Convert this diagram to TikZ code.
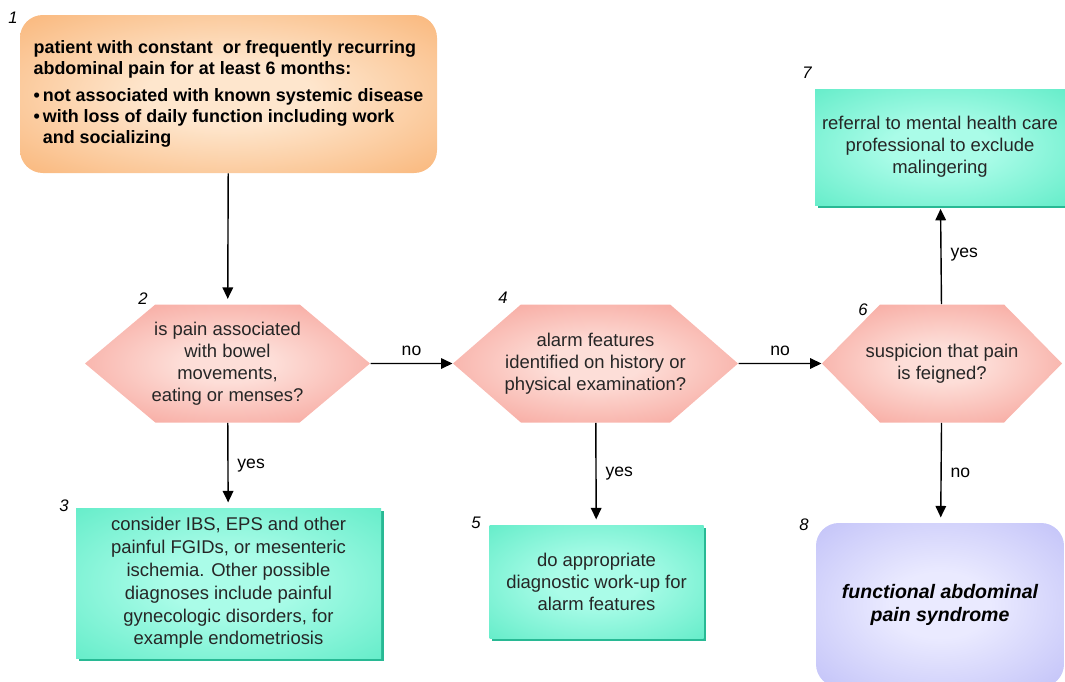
\documentclass[tikz,border=0pt]{standalone}
\usepackage{fontspec}
\setmainfont{Liberation Sans}
\usetikzlibrary{shapes.symbols,arrows.meta,shadows}

\definecolor{orangeout}{RGB}{248,172,104}
\definecolor{orangein}{RGB}{254,230,205}
\definecolor{salmonout}{RGB}{245,148,138}
\definecolor{salmonin}{RGB}{253,222,216}
\definecolor{greenout}{RGB}{80,232,192}
\definecolor{greenin}{RGB}{170,252,232}
\definecolor{greenshade}{RGB}{40,185,148}
\definecolor{lilacout}{RGB}{182,182,246}
\definecolor{lilacin}{RGB}{234,234,255}

% soft radial fills
\pgfdeclareradialshading{orangeglow}{\pgfpoint{0bp}{0bp}}{color(0bp)=(orangein); color(10bp)=(orangein); color(42bp)=(orangeout); color(50bp)=(orangeout)}
\pgfdeclareradialshading{salmonglow}{\pgfpoint{0bp}{0bp}}{color(0bp)=(salmonin); color(8bp)=(salmonin); color(40bp)=(salmonout); color(50bp)=(salmonout)}
\pgfdeclareradialshading{greenglow}{\pgfpoint{0bp}{0bp}}{color(0bp)=(greenin); color(10bp)=(greenin); color(44bp)=(greenout); color(50bp)=(greenout)}
\pgfdeclareradialshading{lilacglow}{\pgfpoint{0bp}{0bp}}{color(0bp)=(lilacin); color(10bp)=(lilacin); color(44bp)=(lilacout); color(50bp)=(lilacout)}

\tikzset{
  txt/.style={font=\fontsize{10.5pt}{12.5pt}\selectfont, align=center, text=black!85},
  startbox/.style={rounded corners=13pt, shading=orangeglow, inner sep=0pt,
    font=\fontsize{10.2pt}{12pt}\selectfont\bfseries, align=left},
  question/.style={shape=signal, signal to=west and east, shading=salmonglow,
    inner xsep=-20pt, inner ysep=0pt, minimum height=2.36cm, txt},
  action/.style={shading=greenglow, inner sep=0pt,
    drop shadow={shadow xshift=1.6pt, shadow yshift=-1.6pt, fill=greenshade, opacity=1}, txt},
  result/.style={rounded corners=13pt, shading=lilacglow, inner sep=0pt,
    font=\fontsize{11.1pt}{13pt}\selectfont\bfseries\itshape, align=center},
  stepno/.style={font=\fontsize{9.5pt}{10pt}\selectfont\itshape, inner sep=0pt},
  answer/.style={font=\fontsize{10pt}{10pt}\selectfont, inner sep=0pt},
  flow/.style={-{Triangle[length=6.5pt,width=6pt]}, line width=0.8pt}
}

\begin{document}
\begin{tikzpicture}
  \useasboundingbox (0,0) rectangle (21.3,-13.62);
  % box 1
  \node [startbox, minimum width=8.34cm, minimum height=3.16cm] (start) at (4.57,-1.88)
    {patient with constant\ \ or frequently recurring\\
     abdominal pain for at least 6 months:\\[3pt]
     \textbullet\,not associated with known systemic disease\\
     \textbullet\,with loss of daily function including work\\
     \phantom{\textbullet\,}and socializing};
  \node [stepno] (n1) at (0.26,-0.36) {1};
  % questions
  \node [question, minimum width=5.7cm, signal pointer angle=80] (bowel) at (4.55,-7.27)
    {is pain associated\\with bowel\\movements,\\eating or menses?};
  \node [stepno] (n2) at (2.86,-5.98) {2};
  \node [question, minimum width=5.7cm, signal pointer angle=82] (alarm) at (11.91,-7.27)
    {alarm features\\identified on history or\\physical examination?};
  \node [stepno] (n4) at (10.06,-5.96) {4};
  \node [question, minimum width=4.8cm, signal pointer angle=91] (feign) at (18.84,-7.27)
    {suspicion that pain\\is feigned?};
  \node [stepno] (n6) at (17.26,-6.2) {6};
  % actions
  \node [action, minimum width=6.1cm, minimum height=3.0cm, font=\fontsize{10.5pt}{13pt}\selectfont] (ibs) at (4.57,-11.66)
    {consider IBS, EPS and other\\painful FGIDs, or mesenteric\\ischemia. Other possible\\diagnoses include painful\\gynecologic disorders, for\\example endometriosis};
  \node [stepno] (n3) at (1.28,-10.12) {3};
  \node [action, minimum width=4.28cm, minimum height=2.26cm] (workup) at (11.93,-11.63)
    {do appropriate\\diagnostic work-up for\\alarm features};
  \node [stepno] (n5) at (9.52,-10.46) {5};
  \node [action, minimum width=5.0cm, minimum height=2.32cm] (referral) at (18.8,-2.94)
    {referral to mental health care\\professional to exclude\\malingering};
  \node [stepno] (n7) at (16.14,-1.46) {7};
  % outcome
  \node [result, minimum width=4.96cm, minimum height=3.28cm] (fap) at (18.8,-12.1)
    {functional abdominal\\pain syndrome};
  \node [stepno] (n8) at (16.08,-10.5) {8};
  % arrows
  \draw [flow, shorten >=3pt] (start) -- (bowel);
  \draw [flow] (bowel) -- node [answer, above=4pt] {no} (alarm);
  \draw [flow] (alarm) -- node [answer, above=4pt] {no} (feign);
  \draw [flow, shorten >=3pt] (bowel) -- node [answer, right=5pt] {yes} (ibs);
  \draw [flow, shorten >=3pt] (alarm) -- node [answer, right=5pt] {yes} (workup);
  \draw [flow, shorten >=2pt] (feign) -- node [answer, right=5pt] {yes} (referral);
  \draw [flow, shorten >=3pt] (feign) -- node [answer, right=5pt] {no} (fap);
\end{tikzpicture}
\end{document}
